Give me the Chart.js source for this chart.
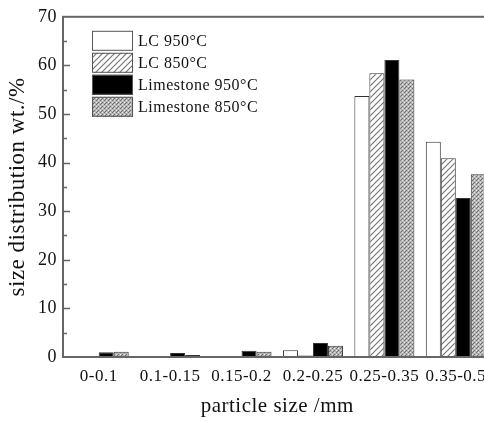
<!DOCTYPE html>
<html>
<head>
<meta charset="utf-8">
<script src="https://cdn.jsdelivr.net/npm/chart.js@4/dist/chart.umd.min.js"></script>
<style>
  html, body { margin: 0; padding: 0; background: #fff; overflow: hidden; }
  #wrap { width: 484px; height: 422px; overflow: hidden; }
</style>
</head>
<body>
<div id="wrap"><canvas id="chart" width="496" height="422"></canvas></div>
<script>
  // particle size classes, mm
  const categories = ["0-0.1", "0.1-0.15", "0.15-0.2", "0.2-0.25", "0.25-0.35", "0.35-0.5"];
  const seriesLabels = ["LC 950°C", "LC 850°C", "Limestone 950°C", "Limestone 850°C"];
  // size distribution wt.%
  const lc950 = [0, 0.2, 0.2, 1.4, 53.7, 44.3];
  const lc850 = [0, 0.2, 0.2, 0.3, 58.4, 40.9];
  const lime950 = [1.0, 0.8, 1.3, 2.9, 61.1, 32.7];
  const lime850 = [1.1, 0.4, 1.1, 2.3, 57.1, 37.6];
  const yTicks = [0, 10, 20, 30, 40, 50, 60, 70];

  const SERIF = "'Liberation Serif', 'Times New Roman', serif";
  const AXIS = "#666";
  const INK = "#111";
  const GAP = "0.5px";

  function hatchPattern() {
    const c = document.createElement("canvas");
    c.width = 6; c.height = 6;
    const g = c.getContext("2d");
    g.fillStyle = "#fff";
    g.fillRect(0, 0, 6, 6);
    g.strokeStyle = "#777";
    g.lineWidth = 1.2;
    g.beginPath();
    g.moveTo(-1, 7); g.lineTo(7, -1);
    g.moveTo(-4, 4); g.lineTo(4, -4);
    g.moveTo(2, 10); g.lineTo(10, 2);
    g.stroke();
    return g.createPattern(c, "repeat");
  }

  function dotPattern() {
    const c = document.createElement("canvas");
    c.width = 4; c.height = 4;
    const g = c.getContext("2d");
    g.fillStyle = "#b4b4b4";
    g.fillRect(0, 0, 4, 4);
    g.fillStyle = "#6e6e6e";
    g.fillRect(0, 0, 1, 1);
    g.fillRect(2, 2, 1, 1);
    g.fillRect(1, 3, 1, 1);
    g.fillStyle = "#e6e6e6";
    g.fillRect(2, 0, 1, 1);
    g.fillRect(0, 2, 1, 1);
    return g.createPattern(c, "repeat");
  }

  const fills = ["#ffffff", hatchPattern(), "#000000", dotPattern()];
  const values = [lc950, lc850, lime950, lime850];

  const spacing = {
    id: "spacing",
    beforeLayout(chart) { chart.ctx.letterSpacing = GAP; },
    beforeDraw(chart) { chart.ctx.letterSpacing = GAP; }
  };

  const frame = {
    id: "frame",
    afterDatasetsDraw(chart) {
      const { ctx, chartArea: a, scales } = chart;
      const y = scales.y;
      ctx.save();
      ctx.strokeStyle = AXIS;
      ctx.lineWidth = 2;
      ctx.strokeRect(a.left, a.top, a.right - a.left, a.bottom - a.top);
      ctx.lineWidth = 1.5;
      ctx.beginPath();
      for (let v = 5; v < 70; v += 5) {
        const py = Math.round(y.getPixelForValue(v)) + 0.5;
        const len = v % 10 === 0 ? 7 : 4;
        ctx.moveTo(a.left, py);
        ctx.lineTo(a.left + len, py);
      }
      ctx.stroke();

      // legend
      const lx = a.left + 29, ly = a.top + 14;
      ctx.font = "16px " + SERIF;
      ctx.letterSpacing = GAP;
      ctx.textBaseline = "middle";
      chart.data.datasets.forEach((ds, i) => {
        const top = ly + i * 22;
        ctx.fillStyle = ds.backgroundColor;
        ctx.fillRect(lx, top, 41, 20);
        ctx.strokeStyle = "#555";
        ctx.lineWidth = 1;
        ctx.strokeRect(lx + 0.5, top + 0.5, 40, 19);
        ctx.fillStyle = INK;
        ctx.fillText(ds.label, lx + 46, top + 11);
      });
      ctx.restore();
    }
  };

  new Chart(document.getElementById("chart"), {
    type: "bar",
    data: {
      labels: categories,
      datasets: values.map((d, i) => ({
        label: seriesLabels[i],
        data: d,
        backgroundColor: fills[i],
        borderColor: "#333",
        borderWidth: 1,
        barPercentage: 1,
        categoryPercentage: 0.84
      }))
    },
    options: {
      responsive: false,
      animation: false,
      events: [],
      layout: { padding: { top: 14, right: 4.5, left: 0, bottom: 0 } },
      plugins: { legend: { display: false }, tooltip: { enabled: false } },
      scales: {
        x: {
          grid: { display: false, drawTicks: false },
          border: { display: false },
          ticks: { color: INK, padding: 9, maxRotation: 0, autoSkip: false, font: { family: SERIF, size: 17 } },
          title: { display: true, text: "particle size /mm", color: INK, padding: { top: 0, bottom: 3 }, font: { family: SERIF, size: 21 } },
          afterFit: (s) => { s.height = 65; }
        },
        y: {
          min: 0,
          max: 70,
          grid: { display: false, drawTicks: false },
          border: { display: false },
          afterBuildTicks: (s) => { s.ticks = yTicks.map((v) => ({ value: v })); },
          ticks: { color: INK, padding: 6, font: { family: SERIF, size: 18 } },
          title: { display: true, text: "size distribution wt./%", color: INK, padding: { top: 4, bottom: 0 }, font: { family: SERIF, size: 23 } },
          afterFit: (s) => { s.width = 63; }
        }
      }
    },
    plugins: [spacing, frame]
  });
</script>
</body>
</html>
